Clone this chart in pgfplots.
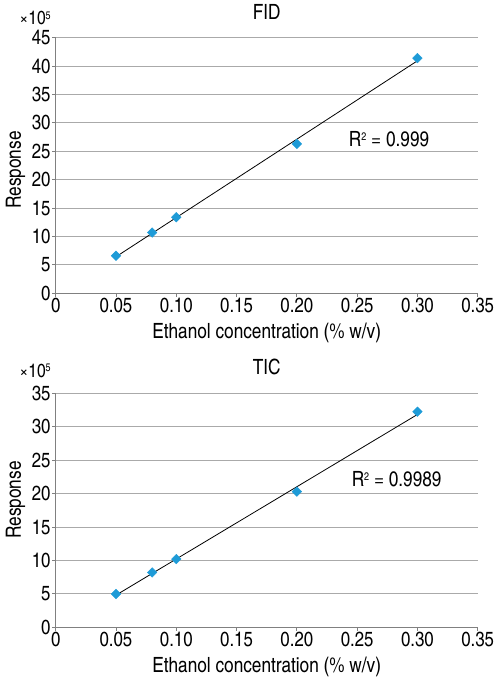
\documentclass[border=0pt]{standalone}
\usepackage{pgfplots}
\pgfplotsset{compat=1.18}
\usepackage{fontspec}
\setmainfont{texgyreheroscn-regular.otf}
\definecolor{mk}{HTML}{1E9BD7}
\definecolor{gridc}{HTML}{AAAAAA}
\definecolor{axc}{HTML}{808080}
\newcommand{\sq}{\raisebox{0.55ex}{\fontsize{11}{12}\selectfont 2}}
\newcommand{\tenfive}{\fontsize{19}{21}\selectfont ×10\raisebox{0.55ex}{\fontsize{11}{12}\selectfont 5}}
\pgfplotsset{
  mystyle/.style={
    scale only axis, width=422pt,
    xmin=0, xmax=0.35, ymin=0,
    axis lines*=left,
    axis line style={axc, line width=0.8pt},
    xtick={0,0.05,0.10,0.15,0.20,0.25,0.30,0.35},
    xticklabels={0,0.05,0.10,0.15,0.20,0.25,0.30,0.35},
    ymajorgrids, grid style={gridc, line width=0.8pt},
    tick align=outside, major tick length=3.5pt,
    tick style={axc, line width=0.8pt},
    /pgf/number format/assume math mode=true,
    ticklabel style={font=\fontsize{20.5}{23}\selectfont, inner sep=1.5pt},
    xlabel={Ethanol concentration (\% w/v)},
    ylabel={Response},
    xlabel style={font=\fontsize{21}{24}\selectfont, at={(axis description cs:0.5,0)}, anchor=base, yshift=-45pt},
    title style={font=\fontsize{21}{24}\selectfont, at={(axis description cs:0.5,1)}, anchor=base},
    clip=false,
  },
  pts/.style={only marks, mark=square*, mark size=3.4pt, mark options={rotate=45, fill=mk, draw=mk}},
  fit/.style={black, line width=0.8pt, mark=none},
}
\begin{document}
\begin{tikzpicture}
\path[use as bounding box] (0,0) rectangle (497pt,677pt);
% FID
\begin{axis}[mystyle, at={(55.7pt,383.7pt)}, anchor=south west,
  height=255.6pt, ymax=45, ytick={0,5,...,45},
  title={FID}, title style={yshift=11.7pt},
  ylabel style={font=\fontsize{21}{24}\selectfont, at={(axis description cs:-0.095,0.482)}, rotate=0, anchor=center}]
\addplot[fit] coordinates {(0.05,6.43) (0.30,40.93)};
\addplot[pts] coordinates {(0.05,6.6) (0.08,10.7) (0.10,13.4) (0.20,26.3) (0.30,41.4)};
\node[font=\fontsize{21}{24}\selectfont] at (axis cs:0.2765,27.2) {R\sq\ = 0.999};
\node[anchor=base] at ([xshift=-20.7pt, yshift=12.7pt]axis description cs:0,1) {\tenfive};
\end{axis}
% TIC
\begin{axis}[mystyle, at={(55.7pt,49.7pt)}, anchor=south west,
  height=234pt, ymax=35, ytick={0,5,...,35},
  title={TIC}, title style={yshift=12.6pt},
  ylabel style={font=\fontsize{21}{24}\selectfont, at={(axis description cs:-0.095,0.544)}, rotate=0, anchor=center}]
\addplot[fit] coordinates {(0.05,4.81) (0.30,31.83)};
\addplot[pts] coordinates {(0.05,4.98) (0.08,8.2) (0.10,10.2) (0.20,20.3) (0.30,32.25)};
\node[font=\fontsize{21}{24}\selectfont] at (axis cs:0.2828,22.2) {R\sq\ = 0.9989};
\node[anchor=base] at ([xshift=-20.7pt, yshift=16pt]axis description cs:0,1) {\tenfive};
\end{axis}
\end{tikzpicture}
\end{document}
